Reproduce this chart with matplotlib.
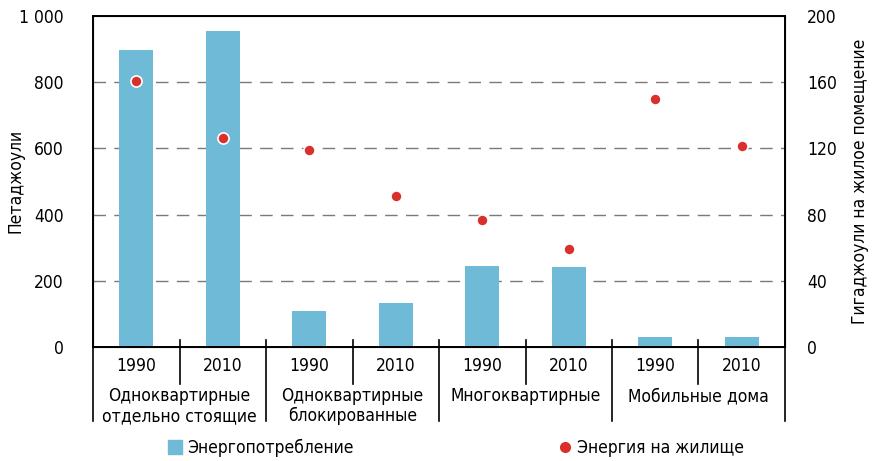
import numpy as np
import matplotlib.pyplot as plt
from matplotlib.patches import Patch
from matplotlib.lines import Line2D

plt.rcParams['font.family'] = ['DejaVu Sans']
plt.rcParams['font.stretch'] = 'condensed'

# Data
years = ['1990', '2010'] * 4
groups = ['Одноквартирные\nотдельно стоящие', 'Одноквартирные\nблокированные',
          'Многоквартирные', 'Мобильные дома']
energy_pj = [896, 956, 109, 133, 245, 242, 30, 30]
energy_per_home = [161, 126.5, 119, 91, 77, 59, 150, 121.5]

bar_color = '#6fbad7'
dot_color = '#d9302c'
fs = 12.5

fig = plt.figure(figsize=(8.73, 4.61), dpi=100)
ax = fig.add_axes([93/873, 1-347/461, 692/873, 331/461])
x = np.arange(len(energy_pj))

ax.bar(x, energy_pj, width=0.39, color=bar_color, zorder=2)
ax.set_xlim(-0.5, len(x) - 0.5)
ax.set_ylim(0, 1000)
ax.set_yticks(range(0, 1001, 200))
ax.set_yticklabels(['0', '200', '400', '600', '800', '1 000'])
ax.tick_params(axis='y', length=0, pad=21, labelsize=fs)
ax.set_xticks([])
for v in range(200, 1000, 200):
    ax.axhline(v, color='#7a7a7a', lw=1, ls=(0, (9, 6)), zorder=1)
for s in ax.spines.values():
    s.set_linewidth(1.4)

ax2 = ax.twinx()
ax2.set_ylim(0, 200)
ax2.set_yticks(range(0, 201, 40))
ax2.tick_params(axis='y', length=0, pad=16, labelsize=fs)
ax2.plot(x, energy_per_home, 'o', color=dot_color, markersize=8,
         markeredgecolor='white', markeredgewidth=1.2, zorder=3)

fig.text(15/873, 1-181/461, 'Петаджоули', rotation=90, ha='center', va='center', fontsize=fs)
fig.text(860/873, 1-181/461, 'Гигаджоули на жилое помещение', rotation=90,
         ha='center', va='center', fontsize=fs)

# category axis below the plot
tr = ax.get_xaxis_transform()
for i, xi in enumerate(x):
    ax.text(xi, -0.058, years[i], transform=tr, ha='center', va='center', fontsize=fs)
for g, name in enumerate(groups):
    cx = 2 * g + 0.5
    ax.text(cx, -0.122, name, transform=tr, ha='center', va='top',
            fontsize=fs, linespacing=1.1)
    ax.plot([cx, cx], [0.021, -0.112], transform=tr, color='black', lw=1.2, clip_on=False)
for b in np.arange(-0.5, len(x), 2):
    ax.plot([b, b], [0.021 if 0 < b < 7 else 0, -0.224], transform=tr,
            color='black', lw=1.2, clip_on=False)

handles = [Patch(color=bar_color),
           Line2D([], [], marker='o', ls='', color=dot_color, markersize=7)]
fig.legend(handles, ['Энергопотребление', 'Энергия на жилище'], loc='center',
           bbox_to_anchor=(456/873, 1-448/461), ncol=2, frameon=False,
           fontsize=fs, handlelength=0.8, handleheight=0.8, handletextpad=0.3,
           columnspacing=11.8)

fig.savefig('out.png', dpi=100)
